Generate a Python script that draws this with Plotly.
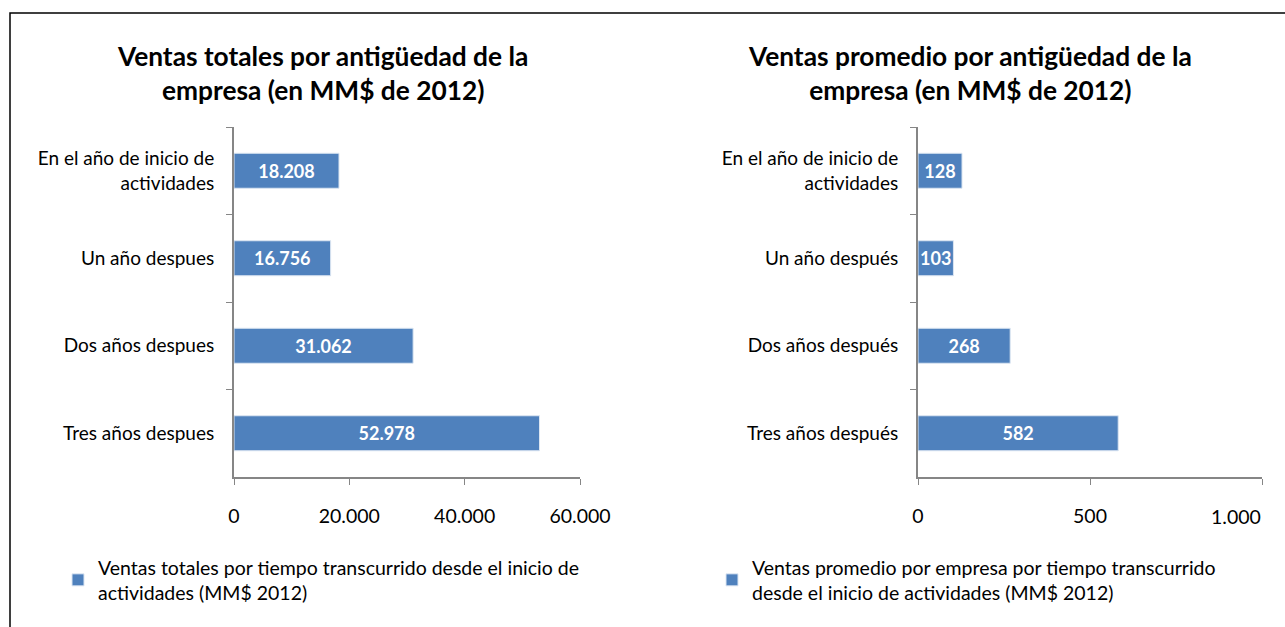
import plotly.graph_objects as go

W, H = 1285, 627

categories_left = ["En el año de inicio de<br>actividades", "Un año despues", "Dos años despues", "Tres años despues"]
categories_right = ["En el año de inicio de<br>actividades", "Un año después", "Dos años después", "Tres años después"]
ventas_totales = [18208, 16756, 31062, 52978]
ventas_promedio = [128, 103, 268, 582]

ticks_left = [0, 20000, 40000, 60000]
ticks_left_text = ["0", "20.000", "40.000", "60.000"]
ticks_right = [0, 500, 1000]
ticks_right_text = ["0", "500", "1.000"]

title_left = "<b>Ventas totales por antigüedad de la<br>empresa (en MM$ de 2012)</b>"
title_right = "<b>Ventas promedio por antigüedad de la<br>empresa (en MM$ de 2012)</b>"
legend_left = "Ventas totales por tiempo transcurrido desde el inicio de<br>actividades (MM$ 2012)"
legend_right = "Ventas promedio por empresa por tiempo transcurrido<br>desde el inicio de actividades (MM$ 2012)"

FONT = "Lato"
FS = 19
BAR = "#4F81BD"
AX = "#868686"


def px(x):
    return x / W


def py(y):
    return 1 - y / H


fig = go.Figure()
fig.add_trace(go.Bar(
    x=ventas_totales, y=categories_left, orientation="h", name=legend_left,
    marker=dict(color=BAR, line=dict(color="#DCE6F2", width=1)), width=0.4,
    texttemplate="<b>%{x:,.0f}</b>", textposition="inside", insidetextanchor="middle",
    textangle=0, constraintext="none", textfont=dict(color="white", size=18, family=FONT),
    xaxis="x", yaxis="y", legend="legend", cliponaxis=False,
))
fig.add_trace(go.Bar(
    x=ventas_promedio, y=categories_right, orientation="h", name=legend_right,
    marker=dict(color=BAR, line=dict(color="#DCE6F2", width=1)), width=0.4,
    texttemplate="<b>%{x:,.0f}</b>", textposition="inside", insidetextanchor="middle",
    textangle=0, constraintext="none", textfont=dict(color="white", size=18, family=FONT),
    xaxis="x2", yaxis="y2", legend="legend2", cliponaxis=False,
))

xcommon = dict(showgrid=False, zeroline=False, showline=True, linecolor=AX, linewidth=2,
               ticks="outside", tickcolor=AX, ticklen=6, tickwidth=1,
               automargin=False, ticklabeloverflow="allow",
               tickfont=dict(family=FONT, size=19.5, color="black"), ticklabelstandoff=15)
ycommon = dict(showgrid=False, zeroline=False, showline=True, linecolor=AX, linewidth=2,
               ticks="outside", tickcolor=AX, ticklen=6, tickwidth=1, tickson="boundaries",
               automargin=False,
               autorange="reversed", tickfont=dict(family=FONT, size=FS, color="black"),
               ticklabelstandoff=14)

# Last right-hand tick label is pulled inward (as in the original) via an annotation
right_text_axis = ticks_right_text[:-1] + [""]

fig.update_layout(
    width=W, height=H, autosize=False,
    margin=dict(l=0, r=0, t=0, b=0, autoexpand=False),
    paper_bgcolor="white", plot_bgcolor="white",
    separators=",.",
    font=dict(family=FONT, color="black"),
    xaxis=dict(domain=[px(234), px(580)], range=[ticks_left[0], ticks_left[-1]],
               tickvals=ticks_left, ticktext=ticks_left_text, anchor="y", **xcommon),
    yaxis=dict(domain=[py(477), py(127)], anchor="x", **ycommon),
    xaxis2=dict(domain=[px(918), px(1262)], range=[ticks_right[0], ticks_right[-1]],
                tickvals=ticks_right, ticktext=right_text_axis, anchor="y2", **xcommon),
    yaxis2=dict(domain=[py(477), py(127)], anchor="x2", **ycommon),
    showlegend=True,
    legend=dict(x=px(58), y=py(548), xanchor="left", yanchor="top", bgcolor="rgba(0,0,0,0)",
                font=dict(family=FONT, size=19.5, color="black"), itemwidth=30),
    legend2=dict(x=px(712), y=py(548), xanchor="left", yanchor="top", bgcolor="rgba(0,0,0,0)",
                 font=dict(family=FONT, size=19.5, color="black"), itemwidth=30),
    annotations=[
        dict(text=title_left, x=px(322), y=py(73), xref="paper", yref="paper", showarrow=False,
             xanchor="center", yanchor="middle", font=dict(family=FONT, size=26.3, color="black")),
        dict(text=title_right, x=px(970), y=py(73), xref="paper", yref="paper", showarrow=False,
             xanchor="center", yanchor="middle", font=dict(family=FONT, size=26.3, color="black")),
        dict(text=ticks_right_text[-1], x=ticks_right[-1], xref="x2", y=py(516), yref="paper",
             showarrow=False, xanchor="right", yanchor="middle", xshift=1,
             font=dict(family=FONT, size=19.5, color="black")),
    ],
    shapes=[
        dict(type="rect", xref="paper", yref="paper", x0=px(10), x1=px(1300), y0=py(13), y1=py(640),
             line=dict(color="black", width=1.5), fillcolor="rgba(0,0,0,0)", layer="below"),
    ],
)

fig.write_html(
    "out.html",
    config={"displayModeBar": False, "responsive": False},
    post_script="document.body.style.margin='0';document.body.style.overflow='hidden';",
)
